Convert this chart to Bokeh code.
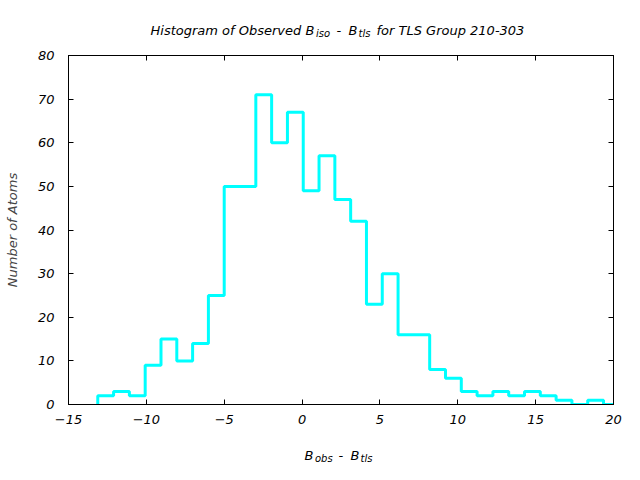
from bokeh.plotting import figure
from bokeh.models import Range1d, LinearAxis, FixedTicker, ColumnDataSource
from bokeh.layouts import column
from bokeh.core.properties import value
from bokeh.embed import file_html
from bokeh.resources import INLINE

# ---- data ----
bin_start = -13.12
bin_width = 1.015
counts = [2, 3, 2, 9, 15, 10, 14, 25, 50, 50, 71, 60, 67, 49, 57, 47, 42,
          23, 30, 16, 16, 8, 6, 3, 2, 3, 2, 3, 2, 1, 0, 1, 0]
x_ticks = [-15, -10, -5, 0, 5, 10, 15, 20]
y_ticks = [0, 10, 20, 30, 40, 50, 60, 70, 80]

title_parts = ["Histogram of Observed B", "iso", "-", "B", "tls", "for TLS Group 210-303"]
xlabel_parts = ["B", "obs", "-", "B", "tls"]
ylabel = "Number of Atoms"

FONT = "DejaVu Sans"
FS = "13px"
TFS, TSFS = "13px", "10px"
W = 640
TOP_H, MAIN_H, BOT_H = 40, 400, 40
FL, FR, FT, FB = 68, 613, 55, 404  # frame edges in page px


def strip(h):
    # x data == page x (frames of a column are aligned to the main frame)
    f = figure(width=W, height=h, output_backend="svg", toolbar_location=None,
               x_range=Range1d(FL, FR), y_range=Range1d(0, h),
               min_border_left=FL, min_border_right=W - FR,
               min_border_top=0, min_border_bottom=0,
               x_axis_location=None, y_axis_location=None)
    f.outline_line_color = None
    f.xgrid.visible = False
    f.ygrid.visible = False
    f.background_fill_color = "white"
    f.border_fill_color = "white"
    return f


def add_text(f, h, texts, xs, ys, sizes):
    src = ColumnDataSource(dict(x=xs, y=[h - y for y in ys], t=texts, s=sizes))
    f.text(x="x", y="y", text="t", source=src, text_font=value(FONT),
           text_font_style="italic", text_font_size="s", text_color="black",
           text_align="left", text_baseline="alphabetic")


# ---- title strip ----
top = strip(TOP_H)
add_text(top, TOP_H, title_parts, [150, 315.5, 336, 348, 358, 376],
         [30, 33, 30, 30, 33, 30], [TFS, TSFS, TFS, TFS, TSFS, TFS])

# ---- main plot ----
p = figure(width=W, height=MAIN_H, output_backend="svg", toolbar_location=None,
           x_range=Range1d(-15, 20), y_range=Range1d(0, 80),
           min_border_left=FL, min_border_right=W - FR,
           min_border_top=FT - TOP_H, min_border_bottom=TOP_H + MAIN_H - FB,
           x_axis_location=None, y_axis_location=None)
p.background_fill_color = "white"
p.border_fill_color = "white"
p.outline_line_color = "black"
p.outline_line_width = 1
p.xgrid.visible = False
p.ygrid.visible = False

xs, ys = [bin_start], [0]
for i, c in enumerate(counts):
    xs += [bin_start + i * bin_width, bin_start + (i + 1) * bin_width]
    ys += [c, c]
p.line(xs, ys, line_color="#00FFFF", line_width=3)


def make_axis(ticks, labels_on):
    ax = LinearAxis(ticker=FixedTicker(ticks=ticks))
    ax.axis_line_color = "black"
    ax.major_tick_in = 5
    ax.major_tick_out = 0
    ax.minor_tick_line_color = None
    ax.major_label_text_font = FONT
    ax.major_label_text_font_style = "italic"
    if labels_on:
        ax.major_label_text_font_size = FS
        ax.major_label_text_color = "black"
    else:
        ax.major_label_text_font_size = "0px"
        ax.major_label_text_color = None
        ax.major_label_standoff = 0
    return ax


xb = make_axis(x_ticks, True)
xb.major_label_standoff = 10
p.add_layout(xb, "below")
p.add_layout(make_axis(x_ticks, False), "above")
yl = make_axis(y_ticks, True)
yl.major_label_standoff = 14
yl.axis_label = ylabel
yl.axis_label_text_font = FONT
yl.axis_label_text_font_style = "italic"
yl.axis_label_text_font_size = FS
yl.axis_label_standoff = 15
p.add_layout(yl, "left")
p.add_layout(make_axis(y_ticks, False), "right")

# ---- x-label strip ----
bot = strip(BOT_H)
base = TOP_H + MAIN_H
add_text(bot, BOT_H, xlabel_parts, [304, 314.5, 338, 350, 360],
         [455 - base, 458 - base, 455 - base, 455 - base, 458 - base],
         [TFS, TSFS, TFS, TFS, TSFS])

layout = column(top, p, bot, spacing=0)
open("out.html", "w").write(file_html(layout, INLINE))
